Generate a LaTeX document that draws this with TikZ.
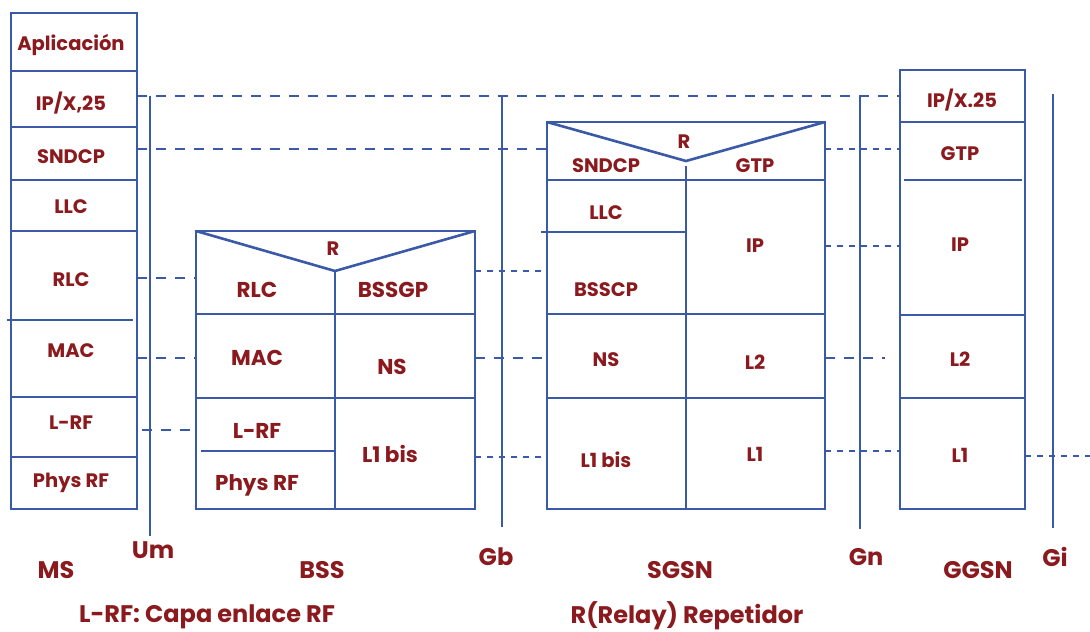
\documentclass[tikz,border=0pt]{standalone}
\usepackage{fontspec}
\setmainfont{Poppins}
\definecolor{bl}{HTML}{3A59A6}
\definecolor{rd}{HTML}{8B1A1E}
\begin{document}
\begin{tikzpicture}[x=1pt,y=-1pt,line width=2.6pt,
  box/.style={draw=bl},
  lbl/.style={text=rd,font=\bfseries\fontsize{19.5}{19.5}\selectfont,inner sep=0pt},
  lblb/.style={text=rd,font=\bfseries\fontsize{21.5}{21.5}\selectfont,inner sep=0pt},
  big/.style={text=rd,font=\bfseries\fontsize{24}{24}\selectfont,inner sep=0pt},
  ldash/.style={draw=bl,dash pattern=on 10pt off 9pt},
  sdash/.style={draw=bl,dash pattern=on 6pt off 6pt},
  iface/.style={draw=bl}]
\useasboundingbox (0,0) rectangle (1090,632);
% interfaces
\draw[iface] (150,96) -- (150,536);
\draw[iface] (502,96) -- (502,527);
\draw[iface] (860,96) -- (860,529);
\draw[iface] (1053,94) -- (1053,528);
% dashed peer lines
\draw[ldash] (137,96) -- (900,96);
\draw[ldash] (137,149) -- (547,149);
\draw[sdash] (825,149) -- (900,149);
\draw[ldash] (137,278) -- (196,278);
\draw[sdash] (475,271) -- (547,271);
\draw[ldash] (137,358) -- (196,358);
\draw[ldash] (475,358) -- (547,358);
\draw[ldash] (825,358) -- (885,358);
\draw[ldash] (142,430) -- (196,430);
\draw[sdash] (475,457) -- (547,457);
\draw[sdash] (825,451) -- (900,451);
\draw[sdash] (825,246) -- (900,246);
\draw[sdash] (1025,456) -- (1090,456);
% MS
\draw[box,fill=white] (11,13) rectangle (137,509);
\foreach \y in {71,127,180,231,397,457} \draw[box] (11,\y) -- (137,\y);
\draw[box] (7,320) -- (133,320);
\node[lbl] (ms1) at (71,45) {Aplicación};
\node[lbl] (ms2) at (71,103) {IP/X,25};
\node[lbl] (ms3) at (71,157) {SNDCP};
\node[lbl] (ms4) at (71,207) {LLC};
\node[lbl] (ms5) at (71,280) {RLC};
\node[lbl] (ms6) at (71,351) {MAC};
\node[lbl] (ms7) at (71,423) {L-RF};
\node[lbl] (ms8) at (71,483) {Phys RF};
% BSS
\draw[box,fill=white] (196,231) rectangle (475,509);
\draw[box] (196,231) -- (335,271) -- (475,231);
\draw[box] (335,271) -- (335,509);
\draw[box] (196,314) -- (475,314);
\draw[box] (196,398) -- (475,398);
\draw[box] (201,451) -- (335,451);
\node[lbl] (b0) at (333,249) {R};
\node[lblb] (b1) at (257,290) {RLC};
\node[lblb] (b2) at (393,290) {BSSGP};
\node[lblb] (b3) at (257,358) {MAC};
\node[lblb] (b4) at (392,367) {NS};
\node[lblb] (b5) at (257,431) {L-RF};
\node[lblb] (b6) at (257,485) {Phys RF};
\node[lblb] (b7) at (390,454) {L1 bis};
% SGSN
\draw[box,fill=white] (547,122) rectangle (825,509);
\draw[box] (547,122) -- (686,161) -- (825,122);
\draw[box] (686,166) -- (686,509);
\draw[box] (547,180) -- (825,180);
\draw[box] (541,232) -- (686,232);
\draw[box] (547,314) -- (825,314);
\draw[box] (547,398) -- (825,398);
\node[lbl] (s0) at (684,142) {R};
\node[lbl] (s1) at (606,166) {SNDCP};
\node[lbl] (s2) at (755,166) {GTP};
\node[lbl] (s3) at (606,213) {LLC};
\node[lbl] (s4) at (755,246) {IP};
\node[lbl] (s5) at (606,290) {BSSCP};
\node[lbl] (s6) at (606,360) {NS};
\node[lbl] (s7) at (755,362) {L2};
\node[lbl] (s8) at (606,460) {L1 bis};
\node[lbl] (s9) at (755,454) {L1};
% GGSN
\draw[box,fill=white] (900,70) rectangle (1025,509);
\draw[box] (900,122) -- (1025,122);
\draw[box] (904,180) -- (1022,180);
\draw[box] (900,315) -- (1025,315);
\draw[box] (900,398) -- (1025,398);
\node[lbl] (g1) at (962,100) {IP/X.25};
\node[lbl] (g2) at (960,154) {GTP};
\node[lbl] (g3) at (960,245) {IP};
\node[lbl] (g4) at (960,359) {L2};
\node[lbl] (g5) at (960,455) {L1};
% bottom labels
\node[big] (lms) at (56,570) {MS};
\node[big] (lum) at (153,550) {Um};
\node[big] (lbss) at (322,570) {BSS};
\node[big] (lgb) at (496,557) {Gb};
\node[big] (lsgsn) at (680,570) {SGSN};
\node[big] (lgn) at (866,557) {Gn};
\node[big] (lggsn) at (978,570) {GGSN};
\node[big] (lgi) at (1055,557) {Gi};
\node[big] (n1) at (207,617) {L-RF: Capa enlace RF};
\node[big] (n2) at (687,616) {R(Relay) Repetidor};
\end{tikzpicture}
\end{document}
